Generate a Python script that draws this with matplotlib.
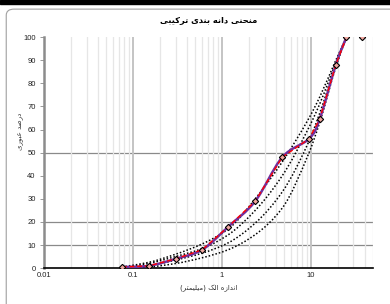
import matplotlib
matplotlib.use('Agg')
import matplotlib.pyplot as plt
from matplotlib.path import Path
from matplotlib.patches import PathPatch, FancyBboxPatch, Rectangle
import numpy as np

# sieve sizes (mm) and percent passing
sieve = [0.075, 0.15, 0.3, 0.6, 1.18, 2.36, 4.75, 9.5, 12.5, 19, 25]
passing = [0.5, 1, 4, 8, 18, 29, 48, 56, 64.5, 88, 100]
extra_sieve = [37.5]
extra_passing = [100]

# dotted reference curves
ref_1 = [0.5, 2.5, 6, 10.5, 17, 30, 46, 65, 74, 90, 100]
ref_2 = [0, 2, 5, 8.5, 14.5, 25, 40, 61, 71, 89, 100]
ref_3 = [0, 1, 3.5, 6.5, 11, 19.5, 33, 55, 67, 88, 100]
ref_4 = [0, 0.5, 2, 4.5, 8, 14.5, 26, 50, 63, 87, 100]

title = 'منحنی دانه بندی ترکیبی'
xlabel = 'اندازه الک (میلیمتر)'
ylabel = 'درصد عبوری'
yticks = list(range(0, 101, 10))
xticks = [0.01, 0.1, 1, 10]
xticklabels = ['0.01', '0.1', '1', '10']

# arabic presentation forms: iso, fin, init, med
FORMS = {
    'ا': (0xFE8D, 0xFE8E, None, None),
    'ب': (0xFE8F, 0xFE90, 0xFE91, 0xFE92),
    'ت': (0xFE95, 0xFE96, 0xFE97, 0xFE98),
    'ح': (0xFEA1, 0xFEA2, 0xFEA3, 0xFEA4),
    'د': (0xFEA9, 0xFEAA, None, None),
    'ر': (0xFEAD, 0xFEAE, None, None),
    'ز': (0xFEAF, 0xFEB0, None, None),
    'ص': (0xFEB9, 0xFEBA, 0xFEBB, 0xFEBC),
    'ع': (0xFEC9, 0xFECA, 0xFECB, 0xFECC),
    'ل': (0xFEDD, 0xFEDE, 0xFEDF, 0xFEE0),
    'م': (0xFEE1, 0xFEE2, 0xFEE3, 0xFEE4),
    'ن': (0xFEE5, 0xFEE6, 0xFEE7, 0xFEE8),
    'ه': (0xFEE9, 0xFEEA, 0xFEEB, 0xFEEC),
    'و': (0xFEED, 0xFEEE, None, None),
    'ی': (0xFBFC, 0xFBFD, 0xFBFE, 0xFBFF),
    'ک': (0xFB8E, 0xFB8F, 0xFB90, 0xFB91),
}


def shape(s):
    out = []
    for i, ch in enumerate(s):
        if ch not in FORMS:
            out.append(ch)
            continue
        prev = s[i - 1] if i > 0 else ''
        nxt = s[i + 1] if i < len(s) - 1 else ''
        f = FORMS[ch]
        join_prev = prev in FORMS and FORMS[prev][2] is not None
        join_next = nxt in FORMS and f[2] is not None
        if join_prev and join_next:
            c = f[3]
        elif join_prev:
            c = f[1]
        elif join_next:
            c = f[2]
        else:
            c = f[0]
        out.append(chr(c))
    vis = ''.join(out)[::-1]
    return vis.translate(str.maketrans('()', ')('))


def smooth_path(x, y, monotone=False):
    # bezier through the points in log-x space (like excel smoothed lines)
    lx = np.log10(x)
    y = np.asarray(y, float)
    n = len(lx)
    d = np.diff(y) / np.diff(lx)
    if monotone:
        m = np.zeros(n)
        m[0], m[-1] = d[0], d[-1]
        for i in range(1, n - 1):
            if d[i - 1] * d[i] > 0:
                m[i] = 2 / (1 / d[i - 1] + 1 / d[i])
    verts = [(lx[0], y[0])]
    codes = [Path.MOVETO]
    for i in range(n - 1):
        p1 = (lx[i], y[i])
        p2 = (lx[i + 1], y[i + 1])
        if monotone:
            h = (p2[0] - p1[0]) / 3
            c1 = (p1[0] + h, p1[1] + m[i] * h)
            c2 = (p2[0] - h, p2[1] - m[i + 1] * h)
        else:
            p0 = (lx[max(i - 1, 0)], y[max(i - 1, 0)])
            p3 = (lx[min(i + 2, n - 1)], y[min(i + 2, n - 1)])
            c1 = (p1[0] + (p2[0] - p0[0]) / 6, p1[1] + (p2[1] - p0[1]) / 6)
            c2 = (p2[0] - (p3[0] - p1[0]) / 6, p2[1] - (p3[1] - p1[1]) / 6)
        verts += [c1, c2, p2]
        codes += [Path.CURVE4] * 3
    verts = [(10 ** vx, vy) for vx, vy in verts]
    return Path(verts, codes)


plt.rcParams['font.family'] = ['Liberation Sans', 'DejaVu Sans']

fig = plt.figure(figsize=(3.9, 3.04), dpi=100)
fig.patches.append(Rectangle((0, 0.986), 1, 0.014, transform=fig.transFigure,
                             color='black', zorder=0))
fig.patches.append(FancyBboxPatch((0.016, -0.05), 1.1, 1.02,
                                  boxstyle='round,pad=0,rounding_size=0.02',
                                  transform=fig.transFigure, fill=False,
                                  edgecolor='#a0a0a0', lw=0.8, zorder=0))

ax = fig.add_axes([0.113, 0.118, 0.844, 0.760])
ax.set_xscale('log')
ax.set_xlim(0.01, 50)
ax.set_ylim(0, 100)

# vertical grid
ax.grid(True, which='minor', axis='x', color='#e6e6e6', lw=0.9)
ax.grid(True, which='major', axis='x', color='#c4c4c4', lw=1.4)
for yv in [10, 20, 50]:
    ax.axhline(yv, color='#8a8a8a', lw=0.9, zorder=1)

for ref in [ref_1, ref_2, ref_3, ref_4]:
    ax.add_patch(PathPatch(smooth_path(sieve, ref, monotone=True), fill=False,
                           edgecolor='black', lw=1.1, linestyle=(0, (1, 1.3)), zorder=3))

ax.add_patch(PathPatch(smooth_path(sieve, passing), fill=False, edgecolor='#7030a0',
                       lw=1.8, zorder=4))
ax.plot(sieve, passing, color='#ff0000', lw=1.0, linestyle=(0, (3.5, 2)), zorder=5)
ax.plot(sieve + extra_sieve, passing + extra_passing, linestyle='none', marker='D',
        markersize=3.2, markerfacecolor='#f2a7a0', markeredgecolor='black',
        markeredgewidth=0.8, zorder=6)

ax.set_yticks(yticks)
ax.set_xticks(xticks)
ax.set_xticklabels(xticklabels)
ax.tick_params(axis='both', labelsize=5.5, labelcolor='#222222')
ax.tick_params(axis='x', length=0, pad=3)
ax.tick_params(axis='x', which='minor', length=0)
ax.tick_params(axis='y', length=3, width=0.6, color='#888888', pad=3)

for s in ['top', 'right']:
    ax.spines[s].set_visible(False)
ax.spines['left'].set_color('#8c8c8c')
ax.spines['left'].set_linewidth(1.8)
ax.spines['bottom'].set_color('black')
ax.spines['bottom'].set_linewidth(1.2)

ax.set_title(shape(title), fontsize=6, fontweight='bold', family='DejaVu Sans', pad=10)
ax.set_xlabel(shape(xlabel), fontsize=5, family='DejaVu Sans', color='#333333', labelpad=4)
ax.set_ylabel(shape(ylabel), fontsize=5, family='DejaVu Sans', color='#333333')
ax.yaxis.set_label_coords(-0.06, 0.59)

fig.savefig('out.png', dpi=100)
plt.close()
